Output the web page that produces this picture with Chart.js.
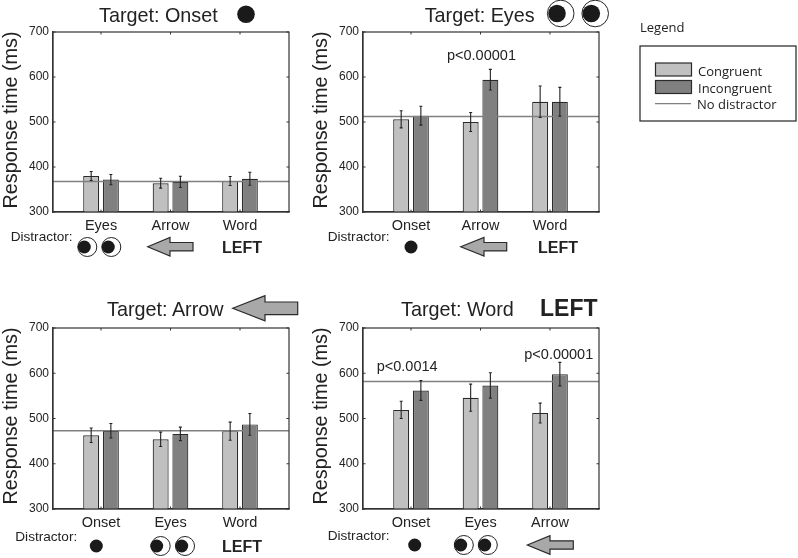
<!DOCTYPE html>
<html>
<head>
<meta charset="utf-8">
<title>Response time by target and distractor</title>
<script src="https://cdn.jsdelivr.net/npm/chart.js@4"></script>
<style>
  html, body { margin: 0; padding: 0; background: #fff; }
  body { position: relative; width: 798px; height: 558px; overflow: hidden; }
  canvas { position: absolute; }
  #overlay { position: absolute; left: 0; top: 0; pointer-events: none; }
  #overlay text { font-family: "Liberation Sans", Arial, sans-serif; fill: #222; }
</style>
</head>
<body>
<canvas id="chartOnset" width="300" height="225" style="left:0;top:20px"></canvas>
<canvas id="chartEyes" width="300" height="225" style="left:310px;top:20px"></canvas>
<canvas id="chartArrow" width="300" height="226" style="left:0;top:316px"></canvas>
<canvas id="chartWord" width="300" height="226" style="left:310px;top:316px"></canvas>
<svg id="overlay" width="798" height="558" xmlns="http://www.w3.org/2000/svg"></svg>

<script>
const yTicks = [300, 400, 500, 600, 700];

const onsetLabels = ["Eyes", "Arrow", "Word"];
const onsetCongruent = [380, 364, 369];
const onsetIncongruent = [372, 367, 374];
const onsetCongruentErr = [10, 11, 10];
const onsetIncongruentErr = [11.5, 12.5, 14.5];
const onsetBaseline = 368;

const eyesLabels = ["Onset", "Arrow", "Word"];
const eyesCongruent = [506, 500, 545];
const eyesIncongruent = [514, 594, 545];
const eyesCongruentErr = [19, 21, 35];
const eyesIncongruentErr = [21, 23, 32];
const eyesBaseline = 512;

const arrowLabels = ["Onset", "Eyes", "Word"];
const arrowCongruent = [463, 454, 472];
const arrowIncongruent = [473, 466, 487];
const arrowCongruentErr = [16, 16, 20];
const arrowIncongruentErr = [16, 15, 24];
const arrowBaseline = 473;

const wordLabels = ["Onset", "Eyes", "Arrow"];
const wordCongruent = [519, 546, 512];
const wordIncongruent = [562, 573, 598];
const wordCongruentErr = [19, 30, 22];
const wordIncongruentErr = [22, 28, 26];
const wordBaseline = 582;

const X_MIN = 0.309;
const X_MAX = 3.705;
const EDGE = "#2b2b2b";
const LIGHT = "#c0c0c0";
const DARK = "#808080";
const REF_LINE = "#808080";
const FONT = "'Liberation Sans', Arial, sans-serif";

// whiskers and the little inward ticks matlab draws on all four sides
const extras = {
  id: "extras",
  afterDatasetsDraw(chart) {
    const { ctx, scales, chartArea } = chart;
    ctx.save();
    ctx.strokeStyle = "#222";
    ctx.lineWidth = 1.1;
    chart.data.datasets.forEach((ds, di) => {
      if (!ds.errors) return;
      chart.getDatasetMeta(di).data.forEach((bar, i) => {
        const hi = scales.y.getPixelForValue(ds.data[i].y + ds.errors[i]);
        const lo = scales.y.getPixelForValue(ds.data[i].y - ds.errors[i]);
        ctx.beginPath();
        ctx.moveTo(bar.x, hi);
        ctx.lineTo(bar.x, lo);
        ctx.moveTo(bar.x - 1.5, hi);
        ctx.lineTo(bar.x + 1.5, hi);
        ctx.moveTo(bar.x - 1.5, lo);
        ctx.lineTo(bar.x + 1.5, lo);
        ctx.stroke();
      });
    });
    ctx.strokeStyle = "#333";
    ctx.lineWidth = 1;
    yTicks.forEach((v) => {
      const y = scales.y.getPixelForValue(v);
      ctx.beginPath();
      ctx.moveTo(chartArea.left, y);
      ctx.lineTo(chartArea.left + 2.5, y);
      ctx.moveTo(chartArea.right, y);
      ctx.lineTo(chartArea.right - 2.5, y);
      ctx.stroke();
    });
    [1, 2, 3].forEach((v) => {
      const x = scales.x.getPixelForValue(v);
      ctx.beginPath();
      ctx.moveTo(x, chartArea.top);
      ctx.lineTo(x, chartArea.top + 2.5);
      ctx.moveTo(x, chartArea.bottom);
      ctx.lineTo(x, chartArea.bottom - 2.5);
      ctx.stroke();
    });
    ctx.restore();
  }
};

function points(values) {
  return values.map((v, i) => ({ x: i + 1, y: v }));
}

function makePanel(id, labels, congruent, incongruent, congruentErr, incongruentErr, baseline) {
  new Chart(document.getElementById(id), {
    data: {
      datasets: [
        {
          type: "line",
          label: "No distractor",
          data: [{ x: X_MIN, y: baseline }, { x: X_MAX, y: baseline }],
          borderColor: REF_LINE,
          borderWidth: 1.5,
          pointRadius: 0,
          order: 0
        },
        {
          type: "bar",
          label: "Congruent",
          data: points(congruent),
          errors: congruentErr,
          backgroundColor: LIGHT,
          borderColor: EDGE,
          borderWidth: 1.2,
          borderSkipped: false,
          categoryPercentage: 0.567,
          barPercentage: 0.81,
          order: 1
        },
        {
          type: "bar",
          label: "Incongruent",
          data: points(incongruent),
          errors: incongruentErr,
          backgroundColor: DARK,
          borderColor: EDGE,
          borderWidth: 1.2,
          borderSkipped: false,
          categoryPercentage: 0.567,
          barPercentage: 0.81,
          order: 1
        }
      ]
    },
    options: {
      responsive: false,
      animation: false,
      layout: { padding: { left: 0, right: 11, top: 12, bottom: 0 } },
      plugins: { legend: { display: false }, tooltip: { enabled: false } },
      scales: {
        x: {
          type: "linear",
          offset: false,
          min: X_MIN,
          max: X_MAX,
          afterBuildTicks(scale) {
            scale.ticks = labels.map((_, i) => ({ value: i + 1 }));
          },
          afterFit(scale) {
            scale.height = 33;
          },
          ticks: {
            autoSkip: false,
            maxRotation: 0,
            padding: 5,
            color: "#222",
            font: { family: FONT, size: 14.5 },
            callback: (v) => labels[v - 1]
          },
          grid: { display: false, drawTicks: false },
          border: { display: true, color: "#333", width: 1.2 }
        },
        y: {
          min: 300,
          max: 700,
          afterBuildTicks(scale) {
            scale.ticks = yTicks.map((v) => ({ value: v }));
          },
          afterFit(scale) {
            scale.width = 53;
          },
          ticks: {
            padding: 4,
            color: "#222",
            font: { family: FONT, size: 12 }
          },
          grid: { display: false, drawTicks: false },
          border: { display: true, color: "#333", width: 1.2 }
        }
      }
    },
    plugins: [extras, {
      id: "frame",
      afterDraw(chart) {
        const { ctx, chartArea: a } = chart;
        ctx.save();
        ctx.strokeStyle = "#333";
        ctx.lineWidth = 1.2;
        ctx.strokeRect(a.left, a.top, a.right - a.left, a.bottom - a.top);
        ctx.restore();
      }
    }]
  });
}

makePanel("chartOnset", onsetLabels, onsetCongruent, onsetIncongruent, onsetCongruentErr, onsetIncongruentErr, onsetBaseline);
makePanel("chartEyes", eyesLabels, eyesCongruent, eyesIncongruent, eyesCongruentErr, eyesIncongruentErr, eyesBaseline);
makePanel("chartArrow", arrowLabels, arrowCongruent, arrowIncongruent, arrowCongruentErr, arrowIncongruentErr, arrowBaseline);
makePanel("chartWord", wordLabels, wordCongruent, wordIncongruent, wordCongruentErr, wordIncongruentErr, wordBaseline);

// titles, distractor row, icons and the legend sit in one svg on top
const svg = document.getElementById("overlay");
function el(name, attrs, body) {
  const n = document.createElementNS("http://www.w3.org/2000/svg", name);
  Object.keys(attrs).forEach((k) => n.setAttribute(k, attrs[k]));
  if (body) n.textContent = body;
  svg.appendChild(n);
}
function text(x, y, size, s, bold, family) {
  const attrs = { x: x, y: y, "font-size": size };
  if (bold) attrs["font-weight"] = "bold";
  if (family) attrs.style = "font-family:" + family;
  el("text", attrs, s);
}
function yTitle(x, y) {
  el("text", { x: x, y: y, "font-size": 19.8, "text-anchor": "middle", transform: "rotate(-90 " + x + " " + y + ")" }, "Response time (ms)");
}
function dot(x, y, r) {
  el("circle", { cx: x, cy: y, r: r, fill: "#1a1a1a" });
}
function eye(x, y, r, px, pr) {
  el("circle", { cx: x, cy: y, r: r, fill: "#fff", stroke: "#222", "stroke-width": 1 });
  dot(px, y, pr);
}
function arrow(tip, y, neck, end, head, shaft) {
  const d = [[tip, y], [neck, y - head], [neck, y - shaft], [end, y - shaft], [end, y + shaft], [neck, y + shaft], [neck, y + head]];
  el("polygon", { points: d.map((p) => p.join(",")).join(" "), fill: "#a8a8a8", stroke: "#2b2b2b", "stroke-width": 1.2 });
}

yTitle(17, 120);
yTitle(327, 120);
yTitle(17, 416);
yTitle(327, 416);

// onset
text(99, 22, 19.8, "Target: Onset");
dot(246, 14.3, 8.8);
text(10.7, 241, 13.6, "Distractor:");
eye(87.3, 247, 9.5, 84.3, 6.5);
eye(111.3, 247, 9.5, 108.3, 6.5);
arrow(147.7, 246.7, 170, 193, 9.3, 4.2);
text(222, 253, 16, "LEFT", true);

// eyes
text(424.7, 22, 19.8, "Target: Eyes");
eye(560.7, 13.5, 13.3, 557, 8.8);
eye(595.2, 13.5, 13.3, 591.3, 8.8);
text(447, 60, 14.5, "p<0.00001");
text(327.7, 241, 13.6, "Distractor:");
dot(411, 247, 6.5);
arrow(460.7, 246.7, 484, 506.7, 9.3, 4.2);
text(538, 253, 16, "LEFT", true);

// arrow
text(107, 316, 19.8, "Target: Arrow");
arrow(232.7, 308.3, 265, 297.7, 12.6, 6.3);
text(15.3, 541, 13.6, "Distractor:");
dot(96.3, 546, 6.5);
eye(160.7, 546, 9.5, 156.7, 6.5);
eye(185, 546, 9.5, 181.7, 6.5);
text(222, 552, 16, "LEFT", true);

// word
text(401, 316, 19.8, "Target: Word");
text(540, 316, 23, "LEFT", true);
text(376.7, 371, 14.5, "p<0.0014");
text(524.3, 359, 14.5, "p<0.00001");
text(327.7, 540, 13.6, "Distractor:");
dot(414.7, 545, 6.5);
eye(463.8, 545, 9.5, 460.7, 6.5);
eye(487.8, 545, 9.5, 484.7, 6.5);
arrow(527.3, 545, 550, 573.3, 9.3, 4.2);

// legend
const LEGEND_FONT = "'Open Sans',sans-serif";
text(640, 32, 13, "Legend", false, LEGEND_FONT);
el("rect", { x: 640, y: 46, width: 156, height: 75, fill: "#fff", stroke: "#222", "stroke-width": 1.2 });
el("rect", { x: 655.5, y: 63, width: 36, height: 13, fill: LIGHT, stroke: EDGE, "stroke-width": 1.2 });
el("rect", { x: 655.5, y: 80.5, width: 36, height: 13, fill: DARK, stroke: EDGE, "stroke-width": 1.2 });
el("line", { x1: 655, y1: 103.7, x2: 691, y2: 103.7, stroke: REF_LINE, "stroke-width": 1.2 });
text(698, 76, 13, "Congruent", false, LEGEND_FONT);
text(698, 93, 13, "Incongruent", false, LEGEND_FONT);
text(697, 109, 13, "No distractor", false, LEGEND_FONT);
</script>
</body>
</html>
